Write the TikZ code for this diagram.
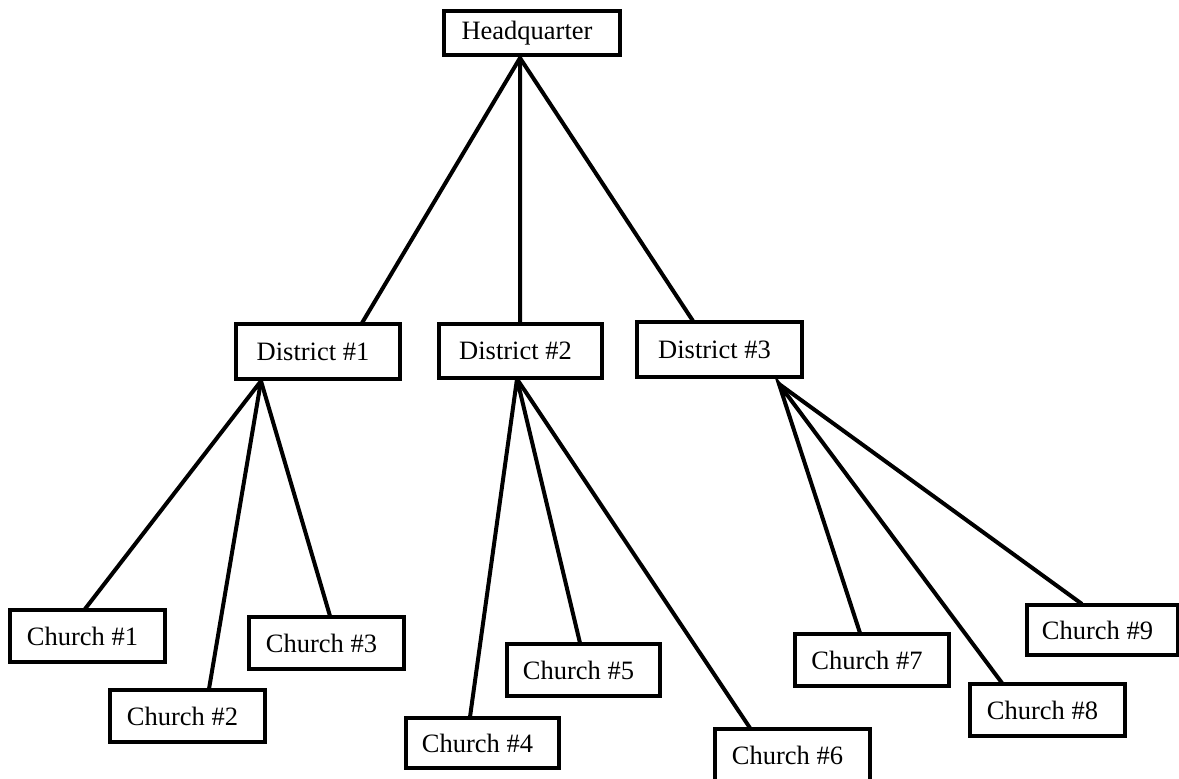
\documentclass[tikz,border=0pt]{standalone}
\usepackage{fontspec}
\setmainfont{Liberation Serif}
\usetikzlibrary{calc}
\begin{document}
\begin{tikzpicture}[x=1pt,y=-1pt,
  box/.style={draw=black,line width=4pt,rectangle,inner sep=0pt,fill=white,
    font=\fontsize{26.5}{30}\selectfont,execute at begin node={\hspace*{-10pt}}},
  link/.style={draw=black,line width=4pt}]
\useasboundingbox (0,0) rectangle (1179,779);
% edges first (behind boxes)
\coordinate (hqb) at (520,58);
\coordinate (d1b) at (261,381);
\coordinate (d2b) at (517,379);
\coordinate (d3b) at (779,384);
\coordinate (d1t) at (362,323);
\coordinate (d2t) at (520,323);
\coordinate (d3t) at (693,321);
\coordinate (c1t) at (85,609);
\coordinate (c2t) at (209,689);
\coordinate (c3t) at (330,616);
\coordinate (c4t) at (470,717);
\coordinate (c5t) at (580,643);
\coordinate (c6t) at (750,728);
\coordinate (c7t) at (860,633);
\coordinate (c8t) at (1002,683);
\coordinate (c9t) at (1082,604);
\draw[link] (d1t) -- (hqb) -- (d2t);
\draw[link] (hqb) -- (d3t);
\draw[link] (c1t) -- (d1b) -- (c2t);
\draw[link] (d1b) -- (c3t);
\draw[link] (c4t) -- (d2b) -- (c5t);
\draw[link] (d2b) -- (c6t);
\draw[link] (c7t) -- (d3b) -- (c8t);
\draw[link] (d3b) -- (c9t);
% boxes
\node[box,minimum width=176pt,minimum height=44pt] (hq) at (532,33) {Headquarter};
\node[box,minimum width=164pt,minimum height=55pt] (d1) at (318,351.5) {District \#1};
\node[box,minimum width=163pt,minimum height=54pt] (d2) at (520.5,351) {District \#2};
\node[box,minimum width=165pt,minimum height=55pt] (d3) at (719.5,349.5) {District \#3};
\node[box,minimum width=155pt,minimum height=52pt] (c1) at (87.5,636) {Church \#1};
\node[box,minimum width=155pt,minimum height=52pt] (c2) at (187.5,716) {Church \#2};
\node[box,minimum width=155pt,minimum height=52pt] (c3) at (326.5,643) {Church \#3};
\node[box,minimum width=153pt,minimum height=50pt] (c4) at (482.5,743) {Church \#4};
\node[box,minimum width=153pt,minimum height=52pt] (c5) at (583.5,670) {Church \#5};
\node[box,minimum width=155pt,minimum height=52pt] (c6) at (792.5,755) {Church \#6};
\node[box,minimum width=154pt,minimum height=52pt] (c7) at (872,660) {Church \#7};
\node[box,minimum width=155pt,minimum height=52pt] (c8) at (1047.5,710) {Church \#8};
\node[box,minimum width=151pt,minimum height=50pt] (c9) at (1102.5,630) {Church \#9};
\end{tikzpicture}
\end{document}
